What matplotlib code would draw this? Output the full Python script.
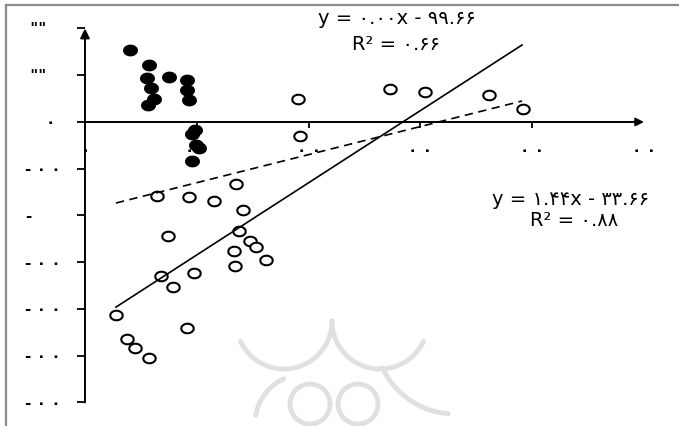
# scatter with two trend lines, persian digits on the labels
import numpy as np
import matplotlib
matplotlib.use('Agg')
import matplotlib.pyplot as plt
from matplotlib.path import Path

# filled points
dark_x = [0.402, 0.572, 0.555, 0.751, 0.912, 0.590, 0.912, 0.617, 0.564,
          0.930, 0.984, 0.957, 1.020, 0.993, 0.957]
dark_y = [1.540, 1.219, 0.941, 0.963, 0.898, 0.727, 0.684, 0.492, 0.364,
          0.471, -0.171, -0.257, -0.556, -0.492, -0.834]

# open points
open_x = [1.905, 1.923, 2.728, 3.041, 3.614, 3.918, 0.644, 0.930, 1.154,
          1.351, 1.413, 0.742, 1.377, 1.476, 1.530, 1.333, 1.619, 1.342,
          0.680, 0.975, 0.787, 0.277, 0.912, 0.376, 0.447, 0.572]
open_y = [0.492, -0.299, 0.706, 0.642, 0.578, 0.278, -1.583, -1.604, -1.690,
          -1.326, -1.882, -2.439, -2.332, -2.545, -2.674, -2.759, -2.952,
          -3.080, -3.294, -3.230, -3.529, -4.128, -4.406, -4.642, -4.834,
          -5.048]

# trend lines (end points)
trend_x = [0.277, 3.909]
solid_y = [-3.96, 1.647]
dashed_y = [-1.733, 0.449]

eq_solid = ['y = ۰.۰۰x - ۹۹.۶۶', 'R² = ۰.۶۶']
eq_dashed = ['y = ۱.۴۴x - ۳۳.۶۶', 'R² = ۰.۸۸']

x_ticks = [0, 1, 2, 3, 4, 5]
x_tick_labels = ['۰', '۰ ۰', '۰ ۰', '۰ ۰', '۰ ۰', '۰ ۰']
y_ticks = [2, 1, 0, -1, -2, -3, -4, -5, -6]
y_tick_labels = [' ""', ' ""', '    ۰', '- ۰ ۰', '-', '- ۰ ۰', '- ۰ ۰',
                 '- ۰ ۰', '- ۰ ۰']

plt.rcParams['font.family'] = ['DejaVu Sans']

fig = plt.figure(figsize=(6.79, 4.27), dpi=100)

# background layer in pixel units: frame + faint watermark
bg = fig.add_axes([0, 0, 1, 1])
bg.set_xlim(0, 679)
bg.set_ylim(427, 0)
bg.axis('off')
bg.plot([6, 679], [6, 6], color='#8c8c8c', lw=1.6)
bg.plot([6, 6], [6, 427], color='#8c8c8c', lw=1.6)

wm = '#e0e0e0'
def arc(cx, cy, r, a0, a1):
    t = np.radians(np.linspace(a0, a1, 80))
    bg.plot(cx + r * np.cos(t), cy + r * np.sin(t), color=wm, lw=3.5,
            solid_capstyle='round')

arc(284, 322, 48, 0, 155)
arc(380, 322, 48, 25, 180)
arc(310, 405, 20, 0, 360)
arc(358, 405, 20, 0, 360)
arc(305, 425, 50, 190, 245)
arc(455, 335, 80, 95, 155)

ax = fig.add_axes([0, 0, 1, 1], facecolor='none')
ax.set_xlim(-0.760, 5.313)
ax.set_ylim(-6.503, 2.631)

for s in ['top', 'right', 'left', 'bottom']:
    ax.spines[s].set_visible(False)
ax.spines['left'].set_position(('data', 0))
ax.spines['bottom'].set_position(('data', 0))
ax.set_xticks(x_ticks[:-1])
ax.set_yticks(y_ticks)
ax.tick_params(axis='y', direction='out', length=6, width=1.3,
               labelleft=False)
ax.tick_params(axis='x', direction='out', length=4, width=1.3,
               labelbottom=False)

# axis lines with arrow heads
ax.annotate('', xy=(0, y_ticks[0]), xytext=(0, y_ticks[-1]),
            arrowprops=dict(arrowstyle='-|>', color='black', lw=1.4,
                            mutation_scale=14, shrinkA=0, shrinkB=0))
ax.annotate('', xy=(x_ticks[-1], 0), xytext=(0, 0),
            arrowprops=dict(arrowstyle='-|>', color='black', lw=1.4,
                            mutation_scale=12, shrinkA=0, shrinkB=0))

for xt, lab in zip(x_ticks, x_tick_labels):
    ax.text(xt, -0.58, lab, ha='center', va='center', fontsize=11,
            fontweight='bold')
for yt, lab in zip(y_ticks, y_tick_labels):
    ax.text(-0.537, yt, lab, ha='left', va='center', fontsize=11,
            fontweight='bold')

t = np.linspace(0, 2 * np.pi, 60)
ell = Path(np.column_stack([1.3 * np.cos(t), np.sin(t)]))

ax.scatter(dark_x, dark_y, marker=ell, s=95, c='black', zorder=3)
ax.scatter(open_x, open_y, marker=ell, s=80, facecolors='white',
           edgecolors='black', linewidths=1.5, zorder=3)

ax.plot(trend_x, solid_y, color='black', lw=1.2, zorder=4)
ax.plot(trend_x, dashed_y, color='black', lw=1.2, linestyle=(0, (5, 3.3)),
        zorder=4)

bg.text(397, 18, eq_solid[0], ha='center', va='center', fontsize=14)
bg.text(396, 45, eq_solid[1], ha='center', va='center', fontsize=14)
bg.text(571, 200, eq_dashed[0], ha='center', va='center', fontsize=14)
bg.text(574, 221, eq_dashed[1], ha='center', va='center', fontsize=14)

fig.savefig('out.png', dpi=100)
